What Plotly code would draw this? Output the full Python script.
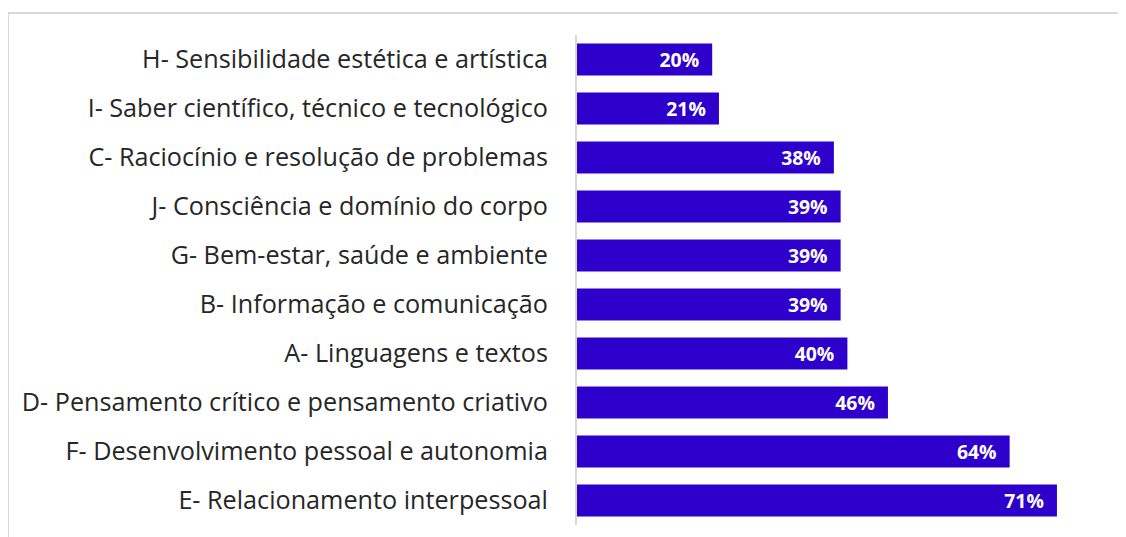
import plotly.graph_objects as go

categories = [
    "H- Sensibilidade estética e artística",
    "I- Saber científico, técnico e tecnológico",
    "C- Raciocínio e resolução de problemas",
    "J- Consciência e domínio do corpo",
    "G- Bem-estar, saúde e ambiente",
    "B- Informação e comunicação",
    "A- Linguagens e textos",
    "D- Pensamento crítico e pensamento criativo",
    "F- Desenvolvimento pessoal e autonomia",
    "E- Relacionamento interpessoal",
]
values = [20, 21, 38, 39, 39, 39, 40, 46, 64, 71]

# page has an 8px body margin, so the figure is placed at (8, 8)
OX, OY = 8, 8
W, H = 1126 - OX, 537 - OY
L, R, T, B = 577 - OX, 8, 35 - OY, 12
pw, ph = W - L - R, H - T - B

fig = go.Figure(go.Bar(
    y=categories, x=values, orientation="h",
    marker=dict(color="#2E00CC", line=dict(width=0)),
    width=0.65,
    text=[f"{v}%\u00a0\u00a0" for v in values],
    textposition="inside", insidetextanchor="end",
    textfont=dict(family="Open Sans", size=21, color="white", weight="bold"),
    cliponaxis=False,
))

fig.update_layout(
    width=W, height=H,
    margin=dict(l=L, r=R, t=T, b=B),
    plot_bgcolor="white", paper_bgcolor="white",
    showlegend=False,
    bargap=0.35,
    xaxis=dict(range=[0, pw / 6.76], visible=False, fixedrange=True),
    yaxis=dict(autorange="reversed", showline=True, linecolor="#D9D9D9", linewidth=2,
               ticks="", ticklabelstandoff=22,
               tickfont=dict(family="Open Sans", size=25.2, color="#262626")),
    shapes=[dict(type="rect", xref="paper", yref="paper",
                 x0=(8 - 577) / pw, x1=(1126 + 20 - 577) / pw,
                 y0=-0.1, y1=1 + (35 - 13) / ph,
                 line=dict(color="#D9D9D9", width=2), layer="below")],
)

fig.write_html("out.html")
